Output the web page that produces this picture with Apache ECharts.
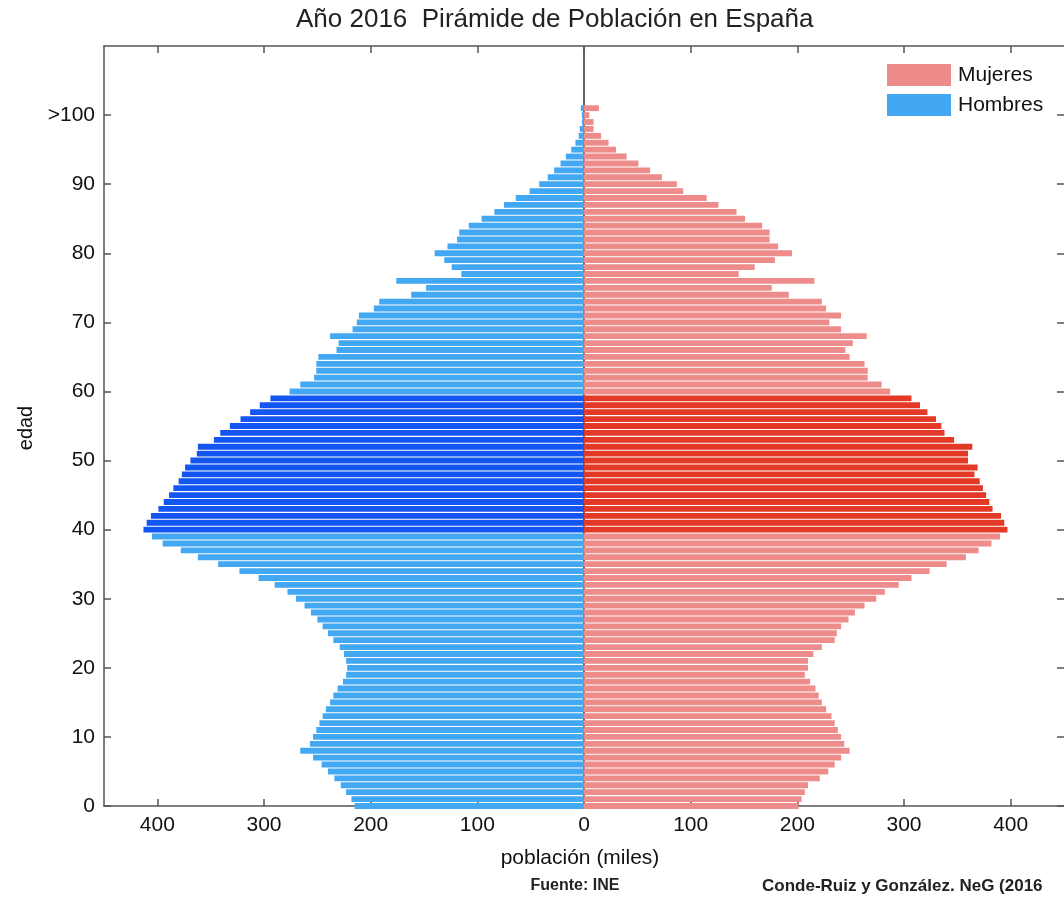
<!DOCTYPE html>
<html><head><meta charset="utf-8">
<script src="https://cdn.jsdelivr.net/npm/echarts@6/dist/echarts.min.js"></script>
<style>html,body{margin:0;padding:0;background:#fff}#c{width:1064px;height:900px}</style>
</head><body><div id="c"></div>
<script>
const chartTitle = 'Año 2016  Pirámide de Población en España';
// age categories 0..110 (axis runs 0..110, bars at integer ages)
const ageCategories = Array.from({length: 111}, (_, i) => String(i));
// population in thousands, ages 0..101 (top bar = 100+ group)
const hombres = [215,218,223,228,234,240,246,254,266,257,
  254,251,248,245,242,238,235,231,226,223,
  222,223,225,229,235,240,245,250,256,262,
  270,278,290,305,323,343,362,378,395,405,
  413,410,406,399,394,389,385,380,377,374,
  369,363,362,347,341,332,322,313,304,294,
  276,266,253,251,251,249,232,230,238,217,
  213,211,197,192,162,148,176,115,124,131,
  140,128,119,117,108,96,84,75,64,51,
  42,34,28,22,17,12,8,5,4,2,
  2,3];
const mujeres = [201,204,207,210,221,229,235,241,249,244,
  241,238,235,232,227,223,220,217,212,207,
  210,210,215,223,235,237,241,248,254,263,
  274,282,295,307,324,340,358,370,382,390,
  397,394,391,383,380,377,374,371,366,369,
  360,360,364,347,338,335,330,322,315,307,
  287,279,266,266,263,249,245,252,265,241,
  230,241,227,223,192,176,216,145,160,179,
  195,182,174,174,167,151,143,126,115,93,
  87,73,62,51,40,30,23,16,9,9,
  5,14];
const highlightFrom = 40, highlightTo = 59;
const xTickValues = [-400,-300,-200,-100,0,100,200,300,400];
const yLabelAges = [0,10,20,30,40,50,60,70,80,90,100];
const yLabelText = ['0','10','20','30','40','50','60','70','80','90','>100'];
const seriesNames = ['Mujeres','Hombres'];
const colors = {hombres:'#42A8F4', hombresDark:'#1456F2', mujeres:'#EE8B8B', mujeresDark:'#E23A26'};

const FONT = '"Liberation Sans", Arial, sans-serif';
const AX = '#555';
function items(vals, sign, light, dark) {
  return vals.map((v, i) => ({value: sign * v, itemStyle: {color: (i >= highlightFrom && i <= highlightTo) ? dark : light}}));
}
const showAge = (idx) => yLabelAges.indexOf(idx) >= 0;
function xAxisDef(pos, labels) {
  return {type: 'value', position: pos, min: -450, max: 450,
    axisLine: {show: true, onZero: false, lineStyle: {color: AX, width: 1.5}},
    axisTick: {show: true, inside: true, length: 7, customValues: xTickValues, lineStyle: {color: AX, width: 1.5}},
    axisLabel: {show: labels, customValues: xTickValues, formatter: v => String(Math.abs(v)), fontSize: 21, color: '#111', margin: 9, fontFamily: FONT},
    splitLine: {show: false}};
}
function yAxisDef(pos, labels) {
  return {type: 'category', data: ageCategories, boundaryGap: false, position: pos,
    axisLine: {show: labels, onZero: false, lineStyle: {color: AX, width: 1.5}},
    axisTick: {show: true, inside: true, length: 7, interval: (i) => showAge(i), lineStyle: {color: AX, width: 1.5}},
    axisLabel: {show: labels, interval: (i) => showAge(i), formatter: (v) => { const k = yLabelAges.indexOf(Number(v)); return k >= 0 ? yLabelText[k] : ''; },
      fontSize: 21, color: '#111', margin: 9, fontFamily: FONT},
    splitLine: {show: false}};
}
const chart = echarts.init(document.getElementById('c'), null, {renderer: 'canvas'});
chart.setOption({
  animation: false,
  backgroundColor: '#fff',
  textStyle: {fontFamily: FONT},
  title: {text: chartTitle, left: 296, top: 7, padding: 0, textStyle: {fontSize: 26, fontWeight: 'normal', color: '#222', fontFamily: FONT}},
  grid: {left: 104, top: 46, width: 963, height: 760, containLabel: false},
  legend: {data: seriesNames, orient: 'vertical', left: 887, top: 64, padding: 0, itemWidth: 64, itemHeight: 22, itemGap: 8, icon: 'rect',
    textStyle: {fontSize: 21, color: '#111', fontFamily: FONT, padding: [0, 0, 0, 2]}},
  xAxis: [xAxisDef('bottom', true), xAxisDef('top', false)],
  yAxis: [yAxisDef('left', true), yAxisDef('right', false)],
  series: [
    {name: 'zero', type: 'line', data: [], z: 0, silent: true,
      markLine: {silent: true, symbol: 'none', z: 0, label: {show: false}, lineStyle: {color: '#333', width: 1.5, type: 'solid'}, data: [{xAxis: 0}]}},
    {name: seriesNames[0], type: 'bar', stack: 'p', xAxisIndex: 0, yAxisIndex: 0, barWidth: '85%', z: 3,
      itemStyle: {color: colors.mujeres}, data: items(mujeres, 1, colors.mujeres, colors.mujeresDark)},
    {name: seriesNames[1], type: 'bar', stack: 'p', xAxisIndex: 0, yAxisIndex: 0, barWidth: '85%', z: 3,
      itemStyle: {color: colors.hombres}, data: items(hombres, -1, colors.hombres, colors.hombresDark)}
  ],
  graphic: [
    {type: 'text', x: 26, y: 428, rotation: Math.PI / 2, style: {text: 'edad', fontSize: 20, fill: '#111', fontFamily: FONT, textAlign: 'center', textVerticalAlign: 'middle'}},
    {type: 'text', x: 580, y: 858, style: {text: 'población (miles)', fontSize: 21, fill: '#111', fontFamily: FONT, textAlign: 'center', textVerticalAlign: 'middle'}},
    {type: 'text', x: 575, y: 886, style: {text: 'Fuente: INE', fontSize: 16, fontWeight: 'bold', fill: '#222', fontFamily: FONT, textAlign: 'center', textVerticalAlign: 'middle'}},
    {type: 'text', x: 762, y: 886, style: {text: 'Conde-Ruiz y González. NeG (2016', fontSize: 17, fontWeight: 'bold', fill: '#222', fontFamily: FONT, textAlign: 'left', textVerticalAlign: 'middle'}}
  ]
});
</script></body></html>
